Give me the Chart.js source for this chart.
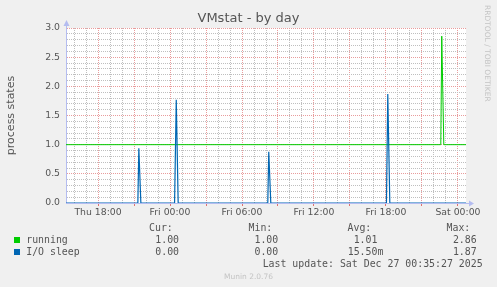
<!DOCTYPE html>
<html>
<head>
<meta charset="utf-8">
<title>VMstat - by day</title>
<script src="https://cdn.jsdelivr.net/npm/chart.js@4.4.1/dist/chart.umd.min.js"></script>
<style>
    html, body { margin: 0; padding: 0; background: #f0f0f0; }
    #wrap { position: relative; width: 497px; height: 287px; overflow: hidden; }
    #vmstatChart { position: absolute; left: 0; top: 0; }
    .mono { position: absolute; white-space: pre; font-family: 'DejaVu Sans Mono', monospace; font-size: 9.9px; line-height: 12px; color: #555; }
    .swatch { position: absolute; width: 6px; height: 6px; }
    #footer { position: absolute; left: 0; width: 497px; top: 272px; text-align: center; font-family: 'DejaVu Sans', sans-serif; font-size: 7.5px; line-height: 9px; color: #c4c4c4; }
    #watermark { position: absolute; left: 483px; top: 5px; writing-mode: vertical-rl; font-family: 'DejaVu Sans', sans-serif; font-size: 7.5px; line-height: 9px; color: #c4c4c4; white-space: pre; }
</style>
</head>
<body>
<div id="wrap">
    <canvas id="vmstatChart" width="497" height="287"></canvas>
    <div id="legend"></div>
    <div id="watermark">RRDTOOL / TOBI OETIKER</div>
    <div id="footer">Munin 2.0.76</div>
</div>
<script>
// time axis in hours counted from Thu 00:00
const xStart = 15.33;
const xEnd = 48.67;
const xTickHours = [18, 24, 30, 36, 42, 48];
const xTickLabels = ['Thu 18:00', 'Fri 00:00', 'Fri 06:00', 'Fri 12:00', 'Fri 18:00', 'Sat 00:00'];
const yMajorTicks = [0, 0.5, 1, 1.5, 2, 2.5, 3];

const runningHours = [15.33, 46.57, 46.65, 46.82, 48.67];
const runningValues = [1, 1, 2.86, 1, 1];

const ioSleepHours = [15.33, 21.32, 21.40, 21.57, 24.38, 24.52, 24.68, 32.15, 32.23, 32.40, 42.04, 42.15, 42.32, 48.67];
const ioSleepValues = [0, 0, 0.94, 0, 0, 1.77, 0, 0, 0.88, 0, 0, 1.87, 0, 0];

const seriesNames = ['running', 'I/O sleep'];
const seriesColors = ['#00cc00', '#0066b3'];
const statHeaders = ['Cur:', 'Min:', 'Avg:', 'Max:'];
const runningStats = ['1.00', '1.00', '1.01', '2.86'];
const ioSleepStats = ['0.00', '0.00', '15.50m', '1.87'];
const lastUpdate = 'Last update: Sat Dec 27 00:35:27 2025';

const textColor = '#555';
const axisColor = '#b4bcf0';
const majorGrid = '#e99c9c';
const minorGrid = '#bfbfbf';

function toPoints(hours, values) {
    return hours.map((h, i) => ({ x: h, y: values[i] }));
}

function isMajorY(v) {
    return Math.round(v * 10) % 5 === 0;
}

const muninFrame = {
    id: 'muninFrame',
    beforeDraw(chart) {
        const { ctx, chartArea: a } = chart;
        ctx.save();
        ctx.fillStyle = '#f0f0f0';
        ctx.fillRect(0, 0, chart.width, chart.height);
        ctx.fillStyle = '#ffffff';
        ctx.fillRect(a.left, a.top, a.right - a.left, a.bottom - a.top);
        ctx.restore();
    },
    afterDraw(chart) {
        const { ctx, chartArea: a } = chart;
        const ax = a.left + 0.5;
        const ay = a.bottom + 0.5;
        ctx.save();
        ctx.strokeStyle = axisColor;
        ctx.fillStyle = axisColor;
        ctx.lineWidth = 1;
        ctx.beginPath();
        ctx.moveTo(ax, a.top);
        ctx.lineTo(ax, a.top - 2);
        ctx.moveTo(a.right, ay);
        ctx.lineTo(a.right + 3, ay);
        ctx.stroke();
        // arrow heads
        ctx.beginPath();
        ctx.moveTo(ax, a.top - 8);
        ctx.lineTo(ax - 3, a.top - 2);
        ctx.lineTo(ax + 3, a.top - 2);
        ctx.closePath();
        ctx.fill();
        ctx.beginPath();
        ctx.moveTo(a.right + 8, ay);
        ctx.lineTo(a.right + 3, ay - 3);
        ctx.lineTo(a.right + 3, ay + 3);
        ctx.closePath();
        ctx.fill();
        ctx.restore();
    },
};

new Chart(document.getElementById('vmstatChart'), {
    type: 'line',
    data: {
        datasets: [{
            label: seriesNames[0],
            data: toPoints(runningHours, runningValues),
            borderColor: seriesColors[0],
            borderWidth: 1,
            pointRadius: 0,
            tension: 0,
            order: 1,
        }, {
            label: seriesNames[1],
            data: toPoints(ioSleepHours, ioSleepValues),
            borderColor: seriesColors[1],
            borderWidth: 1.2,
            pointRadius: 0,
            tension: 0,
            order: 0,
        }],
    },
    options: {
        responsive: false,
        devicePixelRatio: 1,
        animation: false,
        layout: { padding: 0 },
        plugins: {
            legend: { display: false },
            tooltip: { enabled: false },
            title: {
                display: true,
                text: 'VMstat - by day',
                color: textColor,
                font: { family: 'DejaVu Sans', size: 13, weight: 'normal' },
                padding: { top: 11, bottom: 1.4 },
            },
        },
        scales: {
            x: {
                type: 'linear',
                min: xStart,
                max: xEnd,
                afterBuildTicks: (scale) => {
                    const ticks = [];
                    for (let h = Math.ceil(xStart); h <= xEnd; h++) {
                        ticks.push({ value: h });
                    }
                    scale.ticks = ticks;
                },
                afterFit: (scale) => { scale.height = 84; },
                grid: {
                    color: (c) => (c.tick && c.tick.value % 3 === 0 ? majorGrid : minorGrid),
                    tickColor: (c) => (c.tick && c.tick.value % 3 === 0 ? '#e07070' : 'rgba(0,0,0,0)'),
                    tickLength: 3,
                },
                border: { color: axisColor, dash: [1, 1] },
                ticks: {
                    autoSkip: false,
                    maxRotation: 0,
                    padding: 1,
                    color: textColor,
                    font: { family: 'DejaVu Sans', size: 9.3 },
                    callback: (value) => {
                        const i = xTickHours.indexOf(value);
                        return i >= 0 ? xTickLabels[i] : '';
                    },
                },
            },
            y: {
                min: 0,
                max: 3,
                afterBuildTicks: (scale) => {
                    const ticks = [];
                    for (let i = 0; i <= 30; i++) {
                        ticks.push({ value: i / 10 });
                    }
                    scale.ticks = ticks;
                },
                afterFit: (scale) => { scale.width = 66; },
                grid: {
                    color: (c) => (c.tick && isMajorY(c.tick.value) ? majorGrid : minorGrid),
                    drawTicks: false,
                },
                border: { color: axisColor, dash: [1, 1] },
                ticks: {
                    autoSkip: false,
                    padding: 6,
                    color: textColor,
                    font: { family: 'DejaVu Sans', size: 9.3 },
                    callback: (value) => (yMajorTicks.some((t) => Math.abs(t - value) < 1e-6) ? value.toFixed(1) : ''),
                },
                title: {
                    display: true,
                    text: 'process states',
                    color: textColor,
                    font: { family: 'DejaVu Sans', size: 11 },
                    padding: { top: 4.4, bottom: 0 },
                },
            },
            yRight: {
                position: 'right',
                afterFit: (scale) => { scale.width = 31; },
                grid: { display: false },
                border: { display: false },
                ticks: { display: false },
            },
        },
    },
    plugins: [muninFrame],
});

// legend table below the plot
const legend = document.getElementById('legend');

function addText(text, left, top, alignRight) {
    const el = document.createElement('div');
    el.className = 'mono';
    el.textContent = text;
    el.style.top = `${top}px`;
    if (alignRight) {
        el.style.right = `${497 - left}px`;
    } else {
        el.style.left = `${left}px`;
    }
    legend.appendChild(el);
}

const headerLeft = [149, 248.5, 347.5, 446.5];
const valueRight = [185, 284.2, 383.4, 482.6];
const rowTops = [221.9, 233.9, 245.9, 257.9];

statHeaders.forEach((h, i) => addText(h, headerLeft[i], rowTops[0], false));

[runningStats, ioSleepStats].forEach((stats, row) => {
    const sw = document.createElement('div');
    sw.className = 'swatch';
    sw.style.left = '14px';
    sw.style.top = `${237.3 + row * 12}px`;
    sw.style.background = seriesColors[row];
    legend.appendChild(sw);
    addText(seriesNames[row], 26.2, rowTops[row + 1], false);
    stats.forEach((s, i) => {
        const text = /[a-z]$/i.test(s) ? s : `${s} `;
        addText(text, valueRight[i], rowTops[row + 1], true);
    });
});

addText(lastUpdate, 482.6, rowTops[3], true);
</script>
</body>
</html>
